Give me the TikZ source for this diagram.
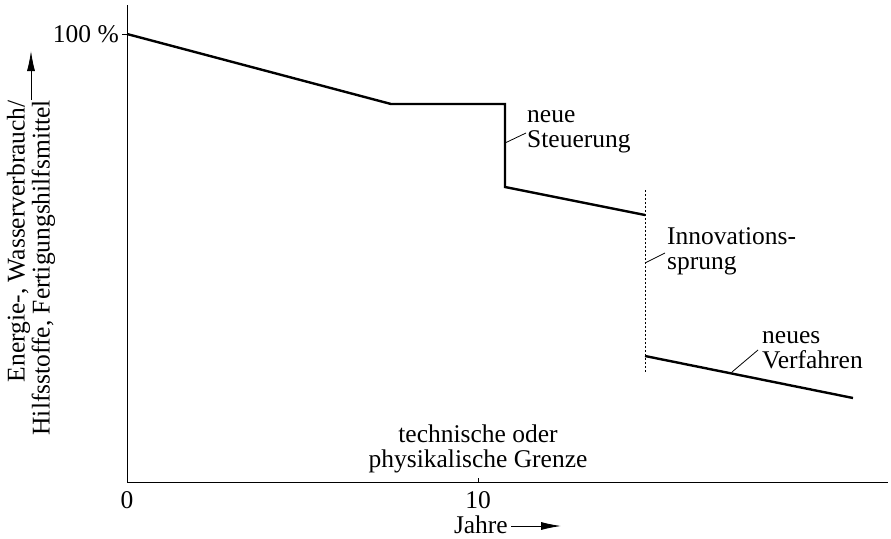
\documentclass[tikz,border=0pt]{standalone}
\usepackage{fontspec}
\setmainfont{Liberation Serif}
\usetikzlibrary{arrows.meta}
\begin{document}
\begin{tikzpicture}[x=1pt,y=-1pt,
  lbl/.style={font=\fontsize{25.5}{25}\selectfont,inner sep=0pt},
  axis/.style={line width=1pt},
  curve/.style={line width=2.4pt,line join=miter},
  leader/.style={line width=0.8pt},
  jump/.style={line width=0.8pt,dash pattern=on 2pt off 2pt},
  arr/.style={line width=0.9pt,-{Latex[length=20pt,width=8pt]}}]
\useasboundingbox (0,0) rectangle (891,538);
% axes
\coordinate (O) at (127,482);
\coordinate (ytop) at (127,5);
\coordinate (xend) at (888,482);
\draw[axis] (ytop) -- (O) -- (xend);
\coordinate (t100) at (127,34);
\draw[axis] (t100) -- ++(-5,0);
\coordinate (t10) at (478,482);
\draw[axis] (t10) -- ++(0,-4);
\node[lbl,anchor=east] (p100) at (119,34) {100 \%};
\node[lbl,anchor=base] (x0) at (127,508) {0};
\node[lbl,anchor=base] (x10) at (478,508) {10};
\node[lbl,anchor=base east] (jahre) at (508,533) {Jahre};
\coordinate (jst) at (511,526);
\coordinate (jarr) at (561,526);
\draw[arr] (jst) -- (jarr);
% y label
\node[lbl,rotate=90,anchor=east,align=right] (ylab) at (31,100)
  {Energie-, Wasserverbrauch/\\Hilfsstoffe, Fertigungshilfsmittel};
\coordinate (yas) at (31,100);
\coordinate (yae) at (31,51);
\draw[arr] (yas) -- (yae);
% curve
\coordinate (c0) at (127,34);
\coordinate (c1) at (391,104);
\coordinate (c2) at (505,104);
\coordinate (c3) at (505,187);
\coordinate (c4) at (645,215);
\draw[curve] (c0) -- (c1) -- (c2) -- (c3) -- (c4);
\coordinate (d0) at (645,190);
\coordinate (d1) at (645,372);
\draw[jump] (d0) -- (d1);
\coordinate (n0) at (645,356);
\coordinate (n1) at (853,398);
\draw[curve] (n0) -- (n1);
% labels
\node[lbl,anchor=west,align=left] (steu) at (527,132) {neue\\Steuerung};
\coordinate (s0) at (505,143);
\coordinate (s1) at (526,133);
\draw[leader] (s0) -- (s1);
\node[lbl,anchor=west,align=left] (inno) at (667,251) {Innovations-\\sprung};
\coordinate (i0) at (645,263);
\coordinate (i1) at (665,253);
\draw[leader] (i0) -- (i1);
\node[lbl,anchor=west,align=left] (verf) at (762,350) {neues\\Verfahren};
\coordinate (v0) at (732,372);
\coordinate (v1) at (758,350);
\draw[leader] (v0) -- (v1);
\node[lbl,align=center] (grenze) at (478,449) {technische oder\\physikalische Grenze};
\end{tikzpicture}
\end{document}
